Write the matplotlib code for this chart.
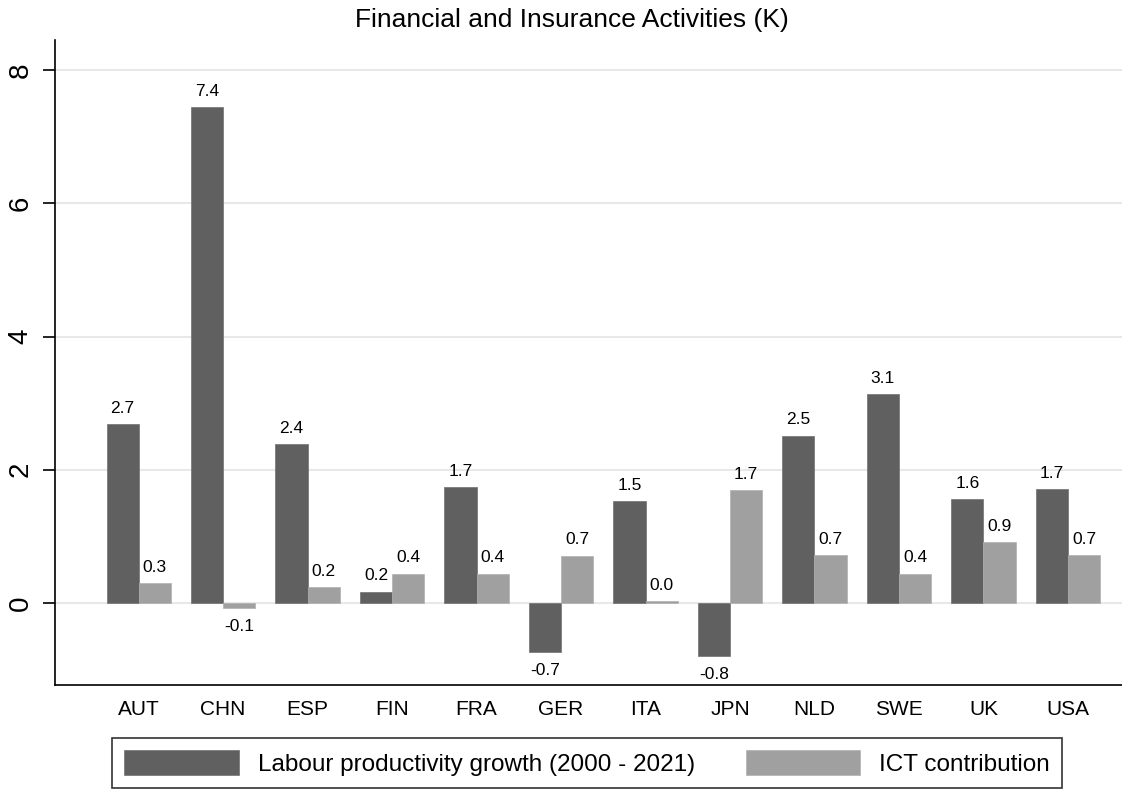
import matplotlib
matplotlib.use("Agg")
import matplotlib.pyplot as plt
import numpy as np

plt.rcParams["font.family"] = ["Liberation Sans", "DejaVu Sans"]

countries = ["AUT", "CHN", "ESP", "FIN", "FRA", "GER", "ITA", "JPN", "NLD", "SWE", "UK", "USA"]
labour_growth = [2.68, 7.44, 2.38, 0.17, 1.74, -0.73, 1.53, -0.79, 2.51, 3.13, 1.56, 1.71]
ict_contrib = [0.30, -0.08, 0.24, 0.44, 0.44, 0.71, 0.03, 1.69, 0.72, 0.44, 0.91, 0.72]

DARK = "#606060"
LIGHT = "#a0a0a0"

W, H = 1122, 792
fig = plt.figure(figsize=(W / 100, H / 100), dpi=100)
ax = fig.add_axes([55 / W, (H - 685) / H, (W - 55) / W, (685 - 40) / H])

x = np.arange(len(countries))
bw = 0.38
b1 = ax.bar(x - bw / 2, labour_growth, bw, color=DARK, edgecolor="#707070", linewidth=0.5,
            label="Labour productivity growth (2000 - 2021)", zorder=2)
b2 = ax.bar(x + bw / 2, ict_contrib, bw, color=LIGHT, edgecolor="#b0b0b0", linewidth=0.5,
            label="ICT contribution", zorder=2)

# value labels above positive bars, below negative ones
for bars, vals in ((b1, labour_growth), (b2, ict_contrib)):
    for r, v in zip(bars, vals):
        cx = r.get_x() + r.get_width() / 2
        if v >= 0:
            ax.annotate(f"{v:.1f}", (cx, v), xytext=(0, 6), textcoords="offset points",
                        ha="center", va="bottom", fontsize=12.5)
        else:
            ax.annotate(f"{v:.1f}", (cx, v), xytext=(0, -8), textcoords="offset points",
                        ha="center", va="top", fontsize=12.5)

ax.set_xlim(-0.99, 11.64)
ax.set_ylim(-1.23, 8.45)
ax.set_yticks([0, 2, 4, 6, 8])
ax.set_yticklabels(["0", "2", "4", "6", "8"], rotation=90, va="center", fontsize=20)
ax.set_xticks(x)
ax.set_xticklabels(countries, fontsize=15)
ax.tick_params(axis="x", length=0, pad=11)
ax.tick_params(axis="y", length=8.5, width=1.2, pad=7)
ax.grid(axis="y", color="#e8e8e8", linewidth=1.5, zorder=0)
ax.set_axisbelow(True)
for s in ("top", "right"):
    ax.spines[s].set_visible(False)
for s in ("left", "bottom"):
    ax.spines[s].set_linewidth(1.2)

fig.text(572 / W, 1 - 20 / H, "Financial and Insurance Activities (K)", ha="center", va="center",
         fontsize=19)

leg = fig.legend(handles=[b1, b2], loc="center", bbox_to_anchor=(587 / W, 1 - 763 / H), ncol=2,
                 fontsize=17.5, frameon=True, fancybox=False, edgecolor="black",
                 handlelength=4.7, handleheight=1.23, columnspacing=2.1, borderpad=0.5,
                 handletextpad=0.78)
leg.get_frame().set_linewidth(1.2)

fig.savefig("out.png", dpi=100)
